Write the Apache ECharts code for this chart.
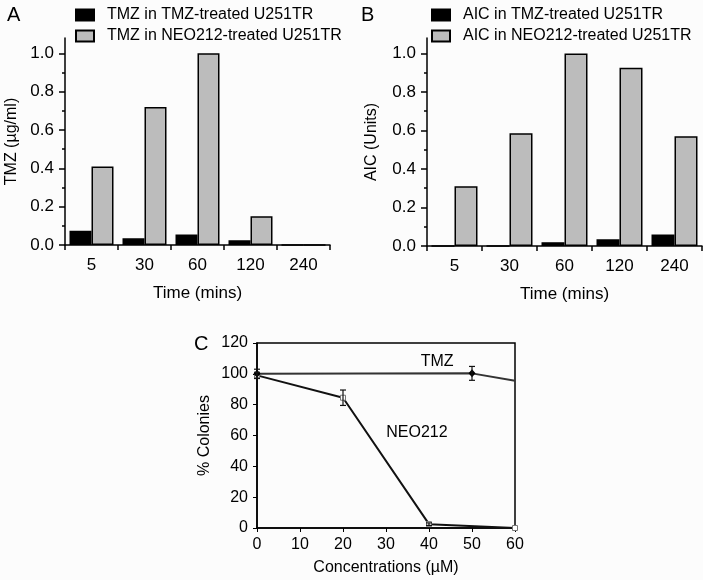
<!DOCTYPE html>
<html>
<head>
<meta charset="utf-8">
<script src="https://cdn.jsdelivr.net/npm/echarts@6/dist/echarts.min.js"></script>
<style>
html,body{margin:0;padding:0;background:#fcfcfc;}
#chart{width:703px;height:580px;}
</style>
</head>
<body>
<div id="chart"></div>
<script>
// ---- data ----
var timeCategories = ["5", "30", "60", "120", "240"];
var tmzInTmzTreated = [0.075, 0.035, 0.055, 0.025, 0];
var tmzInNeoTreated = [0.41, 0.72, 1.0, 0.15, 0];
var aicInTmzTreated = [0, 0, 0.02, 0.035, 0.06];
var aicInNeoTreated = [0.31, 0.585, 1.0, 0.925, 0.57];
var barTickLabels = [0, 0.2, 0.4, 0.6, 0.8, 1.0];
var barMinorTicks = [0.1, 0.3, 0.5, 0.7, 0.9];

var concTMZ = [0, 50, 60];
var colTMZ = [100, 100.3, 95.5];
var errTMZ = [3, 4.5, 0];
var markTMZ = [true, true, false];
var concNEO = [0, 20, 40, 60];
var colNEO = [99, 84.5, 2.5, 0];
var errNEO = [2, 5, 0.8, 0];
var markNEO = [true, true, true, true];

var FONT = "Liberation Sans";
var chart = echarts.init(document.getElementById('chart'), null, {renderer: 'canvas'});

function pairs(xs, ys, marks) {
  return xs.map(function (x, i) {
    var d = {value: [x, ys[i]]};
    if (!marks[i]) d.symbol = 'none';
    return d;
  });
}
function errs(xs, ys, es) { return xs.map(function (x, i) { return [x, ys[i] - es[i], ys[i] + es[i]]; }).filter(function (d, i) { return es[i] > 0; }); }

function barY(grid, name, gap) {
  return {
    type: 'value', gridIndex: grid, min: 0, max: 1.08, position: 'left',
    name: name, nameLocation: 'middle', nameGap: gap, nameRotate: 90,
    nameTextStyle: {fontFamily: FONT, fontSize: 16, color: '#000'},
    axisLine: {show: true, lineStyle: {color: '#000', width: 1.5}},
    axisTick: {show: true, length: 6, customValues: barTickLabels, lineStyle: {color: '#000', width: 1.5}},
    axisLabel: {customValues: barTickLabels, formatter: function (v) { return v.toFixed(1); }, fontFamily: FONT, fontSize: 17, color: '#000', margin: 11},
    splitLine: {show: false}
  };
}
function barMinorY(grid) {
  return {
    type: 'value', gridIndex: grid, min: 0, max: 1.08, position: 'left',
    axisLine: {show: false},
    axisTick: {show: true, length: 3, customValues: barMinorTicks, lineStyle: {color: '#000', width: 1.5}},
    axisLabel: {show: false}, splitLine: {show: false}
  };
}
function barX(grid) {
  return {
    type: 'category', gridIndex: grid, data: timeCategories,
    name: 'Time (mins)', nameLocation: 'middle', nameGap: 40,
    nameTextStyle: {fontFamily: FONT, fontSize: 17, color: '#000'},
    axisLine: {lineStyle: {color: '#000', width: 1.5}},
    axisTick: {show: true, length: 5, lineStyle: {color: '#000', width: 1.5}},
    axisLabel: {fontFamily: FONT, fontSize: 17, color: '#000', margin: 12},
    splitLine: {show: false}
  };
}
function bar(name, data, grid, color, width) {
  return {
    type: 'bar', name: name, data: data, xAxisIndex: grid, yAxisIndex: grid * 2,
    barWidth: width, barGap: '0%',
    itemStyle: {color: color, borderColor: '#000', borderWidth: 1.5},
    emphasis: {disabled: true}
  };
}
function legend(left, names) {
  return {
    data: names, left: left, top: 2, orient: 'vertical', itemGap: 5,
    icon: 'rect', itemWidth: 18, itemHeight: 11, selectedMode: false,
    textStyle: {fontFamily: FONT, fontSize: 16, color: '#000', padding: [0, 0, 0, 8]}
  };
}
function errorSeries(data, xi, yi) {
  return {
    type: 'custom', xAxisIndex: xi, yAxisIndex: yi, data: data, z: 5,
    renderItem: function (params, api) {
      var lo = api.coord([api.value(0), api.value(1)]);
      var hi = api.coord([api.value(0), api.value(2)]);
      var w = 3;
      var st = {stroke: '#111', lineWidth: 1.2};
      return {type: 'group', children: [
        {type: 'line', shape: {x1: lo[0], y1: lo[1], x2: hi[0], y2: hi[1]}, style: st},
        {type: 'line', shape: {x1: lo[0] - w, y1: lo[1], x2: lo[0] + w, y2: lo[1]}, style: st},
        {type: 'line', shape: {x1: hi[0] - w, y1: hi[1], x2: hi[0] + w, y2: hi[1]}, style: st}
      ]};
    }
  };
}

var option = {
  backgroundColor: '#fcfcfc',
  animation: false,
  textStyle: {fontFamily: FONT},
  grid: [
    {left: 65, top: 38, width: 265, height: 207},
    {left: 427, top: 38, width: 275, height: 208},
    {left: 257, top: 343, width: 258, height: 185, show: true, borderColor: '#000', borderWidth: 1.5, backgroundColor: 'transparent'}
  ],
  legend: [
    legend(70, ['TMZ in TMZ-treated U251TR', 'TMZ in NEO212-treated U251TR']),
    legend(426, ['AIC in TMZ-treated U251TR', 'AIC in NEO212-treated U251TR'])
  ],
  xAxis: [
    barX(0), barX(1),
    {
      type: 'value', gridIndex: 2, min: 0, max: 60, interval: 10,
      name: 'Concentrations (\u00b5M)', nameLocation: 'middle', nameGap: 32,
      nameTextStyle: {fontFamily: FONT, fontSize: 16, color: '#000'},
      axisLine: {lineStyle: {color: '#000', width: 1.5}},
      axisTick: {show: true, length: 4, lineStyle: {color: '#000', width: 1}},
      axisLabel: {fontFamily: FONT, fontSize: 16, color: '#000', margin: 9},
      splitLine: {show: false}
    }
  ],
  yAxis: [
    barY(0, 'TMZ (\u00b5g/ml)', 45), barMinorY(0),
    barY(1, 'AIC (Units)', 47), barMinorY(1),
    {
      type: 'value', gridIndex: 2, min: 0, max: 120, interval: 20,
      name: '% Colonies', nameLocation: 'middle', nameGap: 44, nameRotate: 90,
      nameTextStyle: {fontFamily: FONT, fontSize: 16, color: '#000'},
      axisLine: {show: true, lineStyle: {color: '#000', width: 1.5}},
      axisTick: {show: true, length: 4, lineStyle: {color: '#000', width: 1}},
      axisLabel: {fontFamily: FONT, fontSize: 16, color: '#000', margin: 9},
      splitLine: {show: false}
    }
  ],
  graphic: [
    {type: 'text', left: 7, top: 5, style: {text: 'A', font: '20px "Liberation Sans"', fill: '#000'}},
    {type: 'text', left: 361, top: 5, style: {text: 'B', font: '20px "Liberation Sans"', fill: '#000'}},
    {type: 'text', left: 194, top: 334, style: {text: 'C', font: '20px "Liberation Sans"', fill: '#000'}}
  ],
  series: [
    bar('TMZ in TMZ-treated U251TR', tmzInTmzTreated, 0, '#000', 22),
    bar('TMZ in NEO212-treated U251TR', tmzInNeoTreated, 0, '#bcbcbc', 22),
    bar('AIC in TMZ-treated U251TR', aicInTmzTreated, 1, '#000', 23),
    bar('AIC in NEO212-treated U251TR', aicInNeoTreated, 1, '#bcbcbc', 23),
    {
      type: 'line', name: 'NEO212', xAxisIndex: 2, yAxisIndex: 4,
      data: pairs(concNEO, colNEO, markNEO),
      lineStyle: {color: '#111', width: 2}, symbol: 'rect', symbolSize: 5,
      itemStyle: {color: '#fff', borderColor: '#777', borderWidth: 1},
      emphasis: {disabled: true}
    },
    {
      type: 'line', name: 'TMZ', xAxisIndex: 2, yAxisIndex: 4,
      data: pairs(concTMZ, colTMZ, markTMZ),
      lineStyle: {color: '#333', width: 2}, symbol: 'diamond', symbolSize: [7, 8],
      showAllSymbol: true,
      itemStyle: {color: '#000'}, z: 4,
      emphasis: {disabled: true}
    },
    errorSeries(errs(concNEO, colNEO, errNEO), 2, 4),
    errorSeries(errs(concTMZ, colTMZ, errTMZ), 2, 4),
    {
      type: 'scatter', xAxisIndex: 2, yAxisIndex: 4, symbolSize: 0, silent: true,
      itemStyle: {opacity: 1},
      data: [
        {value: [41.9, 107.7], label: {show: true, formatter: 'TMZ', position: 'inside', fontFamily: FONT, fontSize: 16, color: '#000', opacity: 1}},
        {value: [37.2, 61.6], label: {show: true, formatter: 'NEO212', position: 'inside', fontFamily: FONT, fontSize: 16, color: '#000', opacity: 1}}
      ]
    }
  ]
};
chart.setOption(option);
</script>
</body>
</html>
